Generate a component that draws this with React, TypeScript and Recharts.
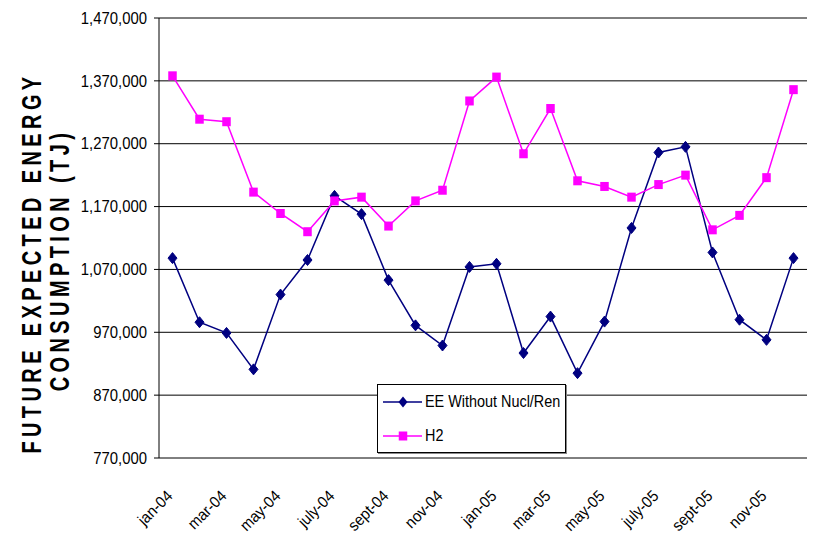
import React from 'react';
import {
  LineChart,
  Line,
  XAxis,
  YAxis,
  CartesianGrid,
} from 'recharts';

const months = [
  'jan-04', 'feb-04', 'mar-04', 'apr-04', 'may-04', 'june-04',
  'july-04', 'aug-04', 'sept-04', 'oct-04', 'nov-04', 'dec-04',
  'jan-05', 'feb-05', 'mar-05', 'apr-05', 'may-05', 'june-05',
  'july-05', 'aug-05', 'sept-05', 'oct-05', 'nov-05', 'dec-05',
];

const eeWithout = [
  1088000, 986000, 969000, 911000, 1030000, 1085000,
  1187000, 1158000, 1053000, 981000, 949000, 1074000,
  1079000, 937000, 995000, 905000, 987000, 1136000,
  1256000, 1265000, 1097000, 990000, 958000, 1088000,
];

const h2 = [
  1378000, 1309000, 1305000, 1193000, 1159000, 1130000,
  1179000, 1185000, 1139000, 1179000, 1196000, 1338000,
  1376000, 1254000, 1326000, 1211000, 1202000, 1185000,
  1205000, 1220000, 1133000, 1156000, 1216000, 1356000,
];

const yTicks = [770000, 870000, 970000, 1070000, 1170000, 1270000, 1370000, 1470000];
const labelTicks = [0.5, 2.5, 4.5, 6.5, 8.5, 10.5, 12.5, 14.5, 16.5, 18.5, 20.5, 22.5];
const boundaryTicks = Array.from({ length: 25 }, (_, i) => i);

const data = months.map((m, i) => ({ month: m, idx: i + 0.5, ee: eeWithout[i], h2: h2[i] }));

const FONT = '"Liberation Sans", Arial, sans-serif';
const NAVY = '#000080';
const MAGENTA = '#FF00FF';

const Diamond = (props: any) => {
  const { cx, cy } = props;
  if (cx == null || cy == null) return null;
  return (
    <polygon
      points={`${cx},${cy - 5.5} ${cx + 4.5},${cy} ${cx},${cy + 5.5} ${cx - 4.5},${cy}`}
      fill={NAVY}
      stroke={NAVY}
    />
  );
};

const Square = (props: any) => {
  const { cx, cy } = props;
  if (cx == null || cy == null) return null;
  return <rect x={cx - 4.25} y={cy - 4.5} width={8.5} height={9} fill={MAGENTA} />;
};

const EmptyTick = () => <g />;

const MonthTick = (props: any) => {
  const { x, y, payload } = props;
  const label = months[Math.floor(payload.value)];
  return (
    <g transform={`translate(${x + 1},${y + 31}) rotate(-45) scale(0.93,1)`}>
      <text textAnchor="end" fontSize={16} fontFamily={FONT} fill="#000">
        {label}
      </text>
    </g>
  );
};

const ValueTick = (props: any) => {
  const { x, y, payload } = props;
  return (
    <g transform={`translate(${x},${y}) scale(0.93,1)`}>
      <text textAnchor="end" dy="0.36em" fontSize={16} fontFamily={FONT} fill="#000">
        {Number(payload.value).toLocaleString('en-US')}
      </text>
    </g>
  );
};

const YTitle = () => (
  <g fontFamily={FONT} fontWeight="bold" fontSize={20} fill="#000" letterSpacing={4.4}>
    <text transform="translate(41,263) rotate(-90) scale(1,1.35)" textAnchor="middle">
      FUTURE EXPECTED ENERGY
    </text>
    <text transform="translate(69,260) rotate(-90) scale(1,1.35)" textAnchor="middle">
      CONSUMPTION (TJ)
    </text>
  </g>
);

const legendText: React.CSSProperties = {
  display: 'inline-block',
  transform: 'scaleX(0.9)',
  transformOrigin: 'left center',
  whiteSpace: 'nowrap',
};

const LegendBox = () => (
  <div
    style={{
      position: 'absolute',
      left: 377,
      top: 384,
      width: 187,
      height: 67,
      border: '1px solid #000',
      background: '#fff',
      boxShadow: '1px 1px 0 #888',
      fontFamily: FONT,
      fontSize: 16,
      color: '#000',
      overflow: 'hidden',
    }}
  >
    <div style={{ display: 'flex', alignItems: 'center', height: 18, marginTop: 8 }}>
      <svg width={47} height={14} style={{ flex: 'none' }}>
        <line x1={5} y1={7} x2={44} y2={7} stroke={NAVY} strokeWidth={1.5} />
        <polygon points="25,1.5 29.5,7 25,12.5 20.5,7" fill={NAVY} />
      </svg>
      <span style={legendText}>EE Without Nucl/Ren</span>
    </div>
    <div style={{ display: 'flex', alignItems: 'center', height: 18, marginTop: 16 }}>
      <svg width={47} height={14} style={{ flex: 'none' }}>
        <line x1={5} y1={7} x2={44} y2={7} stroke={MAGENTA} strokeWidth={1.5} />
        <rect x={20.75} y={2.5} width={8.5} height={9} fill={MAGENTA} />
      </svg>
      <span style={legendText}>H2</span>
    </div>
  </div>
);

export default function App() {
  return (
    <div style={{ position: 'absolute', left: 0, top: 0, width: 814, height: 537, background: '#fff' }}>
      <LineChart
        width={814}
        height={537}
        data={data}
        margin={{ top: 18, right: 7, left: 0, bottom: 0 }}
      >
        <CartesianGrid vertical={false} stroke="#000" strokeWidth={1} xAxisId="bnd" />
        <XAxis
          xAxisId="bnd"
          dataKey="idx"
          type="number"
          domain={[0, 24]}
          ticks={boundaryTicks}
          tick={<EmptyTick />}
          tickSize={5}
          tickLine={{ stroke: '#000' }}
          axisLine={{ stroke: '#000' }}
          height={0}
          interval={0}
        />
        <XAxis
          xAxisId="lab"
          dataKey="idx"
          type="number"
          domain={[0, 24]}
          ticks={labelTicks}
          tick={<MonthTick />}
          tickLine={false}
          axisLine={false}
          height={79}
          interval={0}
        />
        <YAxis
          domain={[770000, 1470000]}
          ticks={yTicks}
          width={159}
          tickSize={5}
          tickMargin={7}
          interval={0}
          tickLine={{ stroke: '#000' }}
          axisLine={{ stroke: '#000' }}
          tick={<ValueTick />}
          label={<YTitle />}
        />
        <Line
          xAxisId="bnd"
          dataKey="ee"
          stroke={NAVY}
          strokeWidth={1.5}
          dot={<Diamond />}
          activeDot={false}
          isAnimationActive={false}
        />
        <Line
          xAxisId="bnd"
          dataKey="h2"
          stroke={MAGENTA}
          strokeWidth={1.5}
          dot={<Square />}
          activeDot={false}
          isAnimationActive={false}
        />
      </LineChart>
      <LegendBox />
    </div>
  );
}
